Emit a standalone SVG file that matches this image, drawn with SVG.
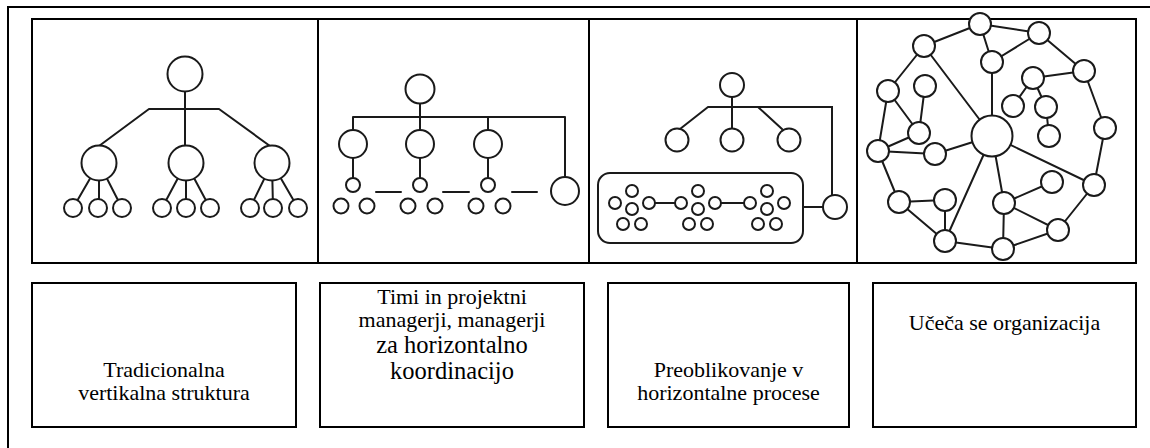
<svg xmlns="http://www.w3.org/2000/svg" width="1150" height="448" viewBox="0 0 1150 448">
  <defs>
    <style>
      .frame { fill: none; stroke: #000; stroke-width: 2; }
      .ln { fill: none; stroke: #1a1a1a; stroke-width: 2; stroke-linecap: round; }
      .nd { fill: #fff; stroke: #1a1a1a; stroke-width: 2; }
      .box { fill: #fff; stroke: #000; stroke-width: 2; }
      text { font-family: "Liberation Serif", Tinos, "Times New Roman", "DejaVu Serif", serif; }
      .lbl { font-size: 22px; fill: #000; text-anchor: middle; }
      .big { font-size: 24.5px; }
    </style>
  </defs>
  <rect width="1150" height="448" fill="#fff"/>

  <!-- outer frame: left and top edges -->
  <path class="frame" d="M8,448 V7 H1150"/>

  <!-- picture strip with four panels -->
  <g id="panels">
    <rect class="frame" x="32" y="19" width="1104" height="244"/>
    <path class="frame" d="M318,19 V263 M589,19 V263 M857,19 V263"/>
  </g>

  <!-- panel 1: traditional vertical hierarchy -->
  <g id="panel-vertical">
    <g class="connectors">
      <path class="ln" d="M185,74 V163 M149,109 H219 M149,109 L99,146 M219,109 L270,146"/>
      <path class="ln" d="M99,163 L73,208 M99,163 V208 M99,163 L122,208"/>
      <path class="ln" d="M186,163 L162,208 M186,163 V208 M186,163 L210,208"/>
      <path class="ln" d="M272,163 L250,208 M272,163 L273,208 M272,163 L298,208"/>
    </g>
    <g class="nodes">
      <circle class="nd" cx="185" cy="74" r="17.5"/>
      <circle class="nd" cx="99" cy="163" r="17.5"/>
      <circle class="nd" cx="186" cy="163" r="17.5"/>
      <circle class="nd" cx="272" cy="163" r="17.5"/>
      <circle class="nd" cx="73" cy="208" r="9"/>
      <circle class="nd" cx="98" cy="208" r="9"/>
      <circle class="nd" cx="122" cy="208" r="9"/>
      <circle class="nd" cx="162" cy="208" r="9"/>
      <circle class="nd" cx="186" cy="208" r="9"/>
      <circle class="nd" cx="210" cy="208" r="9"/>
      <circle class="nd" cx="250" cy="208" r="9"/>
      <circle class="nd" cx="273" cy="208" r="9"/>
      <circle class="nd" cx="298" cy="208" r="9"/>
    </g>
  </g>

  <!-- panel 2: teams and project managers -->
  <g id="panel-teams">
    <g class="connectors">
      <path class="ln" d="M420,89 V144 M353,117 H565 M353,117 V144 M488,117 V144 M565,117 V191"/>
      <path class="ln" d="M353,144 V185 M420,144 V185 M488,144 V185"/>
      <path class="ln" d="M376,192 H401 M443,192 H469 M512,192 H537"/>
    </g>
    <g class="nodes">
      <circle class="nd" cx="420" cy="89" r="14.5"/>
      <circle class="nd" cx="353" cy="144" r="14"/>
      <circle class="nd" cx="420" cy="144" r="14"/>
      <circle class="nd" cx="488" cy="144" r="14"/>
      <circle class="nd" cx="565" cy="191" r="14"/>
      <circle class="nd" cx="353" cy="185" r="7"/>
      <circle class="nd" cx="420" cy="185" r="7"/>
      <circle class="nd" cx="488" cy="185" r="7"/>
      <circle class="nd" cx="341" cy="206" r="7.5"/>
      <circle class="nd" cx="367" cy="206" r="7.5"/>
      <circle class="nd" cx="408" cy="206" r="7.5"/>
      <circle class="nd" cx="435" cy="206" r="7.5"/>
      <circle class="nd" cx="476" cy="206" r="7.5"/>
      <circle class="nd" cx="503" cy="206" r="7.5"/>
    </g>
  </g>

  <!-- panel 3: horizontal processes -->
  <g id="panel-processes">
    <g class="connectors">
      <path class="ln" d="M732,85 V140 M708,107 H832 V207 M708,107 L680,129 M758,107 L782,129"/>
      <path class="ln" d="M803,207 H835"/>
    </g>
    <g class="nodes">
      <circle class="nd" cx="732" cy="85" r="12"/>
      <circle class="nd" cx="677" cy="140" r="11.5"/>
      <circle class="nd" cx="732" cy="140" r="11.5"/>
      <circle class="nd" cx="789" cy="140" r="11.5"/>
      <circle class="nd" cx="835" cy="207" r="12"/>
      <rect class="nd" x="598" y="173" width="205" height="70" rx="12"/>
      <path class="ln" d="M655,203 H675 M721,203 H744"/>
      <g id="cluster-1" transform="translate(632,209)">
        <circle class="nd" cx="0" cy="-18" r="6"/>
        <circle class="nd" cx="-17" cy="-6" r="6"/>
        <circle class="nd" cx="0" cy="0" r="6"/>
        <circle class="nd" cx="17" cy="-6" r="6"/>
        <circle class="nd" cx="-9" cy="15" r="6"/>
        <circle class="nd" cx="9" cy="15" r="6"/>
      </g>
      <g id="cluster-2" transform="translate(698,209)">
        <circle class="nd" cx="0" cy="-18" r="6"/>
        <circle class="nd" cx="-17" cy="-6" r="6"/>
        <circle class="nd" cx="0" cy="0" r="6"/>
        <circle class="nd" cx="17" cy="-6" r="6"/>
        <circle class="nd" cx="-9" cy="15" r="6"/>
        <circle class="nd" cx="9" cy="15" r="6"/>
      </g>
      <g id="cluster-3" transform="translate(767,209)">
        <circle class="nd" cx="0" cy="-18" r="6"/>
        <circle class="nd" cx="-17" cy="-6" r="6"/>
        <circle class="nd" cx="0" cy="0" r="6"/>
        <circle class="nd" cx="17" cy="-6" r="6"/>
        <circle class="nd" cx="-9" cy="15" r="6"/>
        <circle class="nd" cx="9" cy="15" r="6"/>
      </g>
    </g>
  </g>

  <!-- panel 4: learning organisation network -->
  <g id="panel-network">
    <g class="connectors">
      <path class="ln" d="
        M980,24 L924,46 M980,24 L1039,33 M980,24 L992,62 M992,62 L1039,33
        M1039,33 L1084,71 M992,62 L992,136 M924,46 L992,136 M924,46 L888,91
        M925,86 L919,133 M888,91 L919,133 M888,91 L878,151 M878,151 L919,133
        M878,151 L935,154 M935,154 L992,136 M1084,71 L1033,78 M1033,78 L1013,106
        M1033,78 L1046,107 M1046,107 L1049,136 M1084,71 L1105,128 M1105,128 L1094,185
        M992,136 L1094,185 M878,151 L899,202 M899,202 L945,200 M945,200 L945,241
        M899,202 L945,241 M992,136 L945,241 M992,136 L1004,203 M1004,203 L1052,182
        M1004,203 L1058,230 M1004,203 L1003,249 M945,241 L1003,249 M1003,249 L1058,230
        M1094,185 L1058,230"/>
    </g>
    <g class="nodes">
      <circle class="nd" cx="980" cy="24" r="11"/>
      <circle class="nd" cx="924" cy="46" r="11"/>
      <circle class="nd" cx="1039" cy="33" r="11"/>
      <circle class="nd" cx="992" cy="62" r="11"/>
      <circle class="nd" cx="1084" cy="71" r="11"/>
      <circle class="nd" cx="1033" cy="78" r="11"/>
      <circle class="nd" cx="925" cy="86" r="11"/>
      <circle class="nd" cx="888" cy="91" r="11"/>
      <circle class="nd" cx="1013" cy="106" r="11"/>
      <circle class="nd" cx="1046" cy="107" r="11"/>
      <circle class="nd" cx="1105" cy="128" r="11"/>
      <circle class="nd" cx="1049" cy="136" r="11"/>
      <circle class="nd" cx="992" cy="136" r="20.5"/>
      <circle class="nd" cx="919" cy="133" r="11"/>
      <circle class="nd" cx="878" cy="151" r="11"/>
      <circle class="nd" cx="935" cy="154" r="11"/>
      <circle class="nd" cx="1052" cy="182" r="11"/>
      <circle class="nd" cx="1094" cy="185" r="11"/>
      <circle class="nd" cx="899" cy="202" r="11"/>
      <circle class="nd" cx="945" cy="200" r="11"/>
      <circle class="nd" cx="1004" cy="203" r="11"/>
      <circle class="nd" cx="1058" cy="230" r="11"/>
      <circle class="nd" cx="945" cy="241" r="11"/>
      <circle class="nd" cx="1003" cy="249" r="11"/>
    </g>
  </g>

  <!-- caption boxes -->
  <g id="labels">
    <g id="label-vertical">
      <rect class="box" x="32" y="283" width="264" height="144"/>
      <text class="lbl" x="164" y="377" font-family="Liberation Serif">Tradicionalna</text>
      <text class="lbl" x="164" y="400" font-family="Liberation Serif">vertikalna struktura</text>
    </g>
    <g id="label-teams">
      <rect class="box" x="320" y="283" width="264" height="144"/>
      <text class="lbl" x="452" y="304" font-family="Liberation Serif">Timi in projektni</text>
      <text class="lbl" x="452" y="327" font-family="Liberation Serif">managerji, managerji</text>
      <text class="lbl big" x="452" y="353" font-family="Liberation Serif">za horizontalno</text>
      <text class="lbl big" x="452" y="379" font-family="Liberation Serif">koordinacijo</text>
    </g>
    <g id="label-processes">
      <rect class="box" x="608" y="283" width="241" height="144"/>
      <text class="lbl" x="728.5" y="377" font-family="Liberation Serif">Preoblikovanje v</text>
      <text class="lbl" x="728.5" y="400" font-family="Liberation Serif">horizontalne procese</text>
    </g>
    <g id="label-learning">
      <rect class="box" x="873" y="283" width="263" height="144"/>
      <text class="lbl" x="1004.5" y="330" font-family="Liberation Serif">Učeča se organizacija</text>
    </g>
  </g>
</svg>
